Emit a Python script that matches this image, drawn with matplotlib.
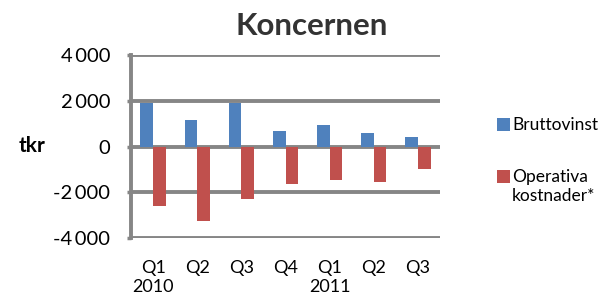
import matplotlib
matplotlib.use("Agg")
import matplotlib.pyplot as plt
from matplotlib.patches import Rectangle
import numpy as np

categories = ["Q1\n2010", "Q2", "Q3", "Q4", "Q1\n2011", "Q2", "Q3"]
bruttovinst = [1900, 1150, 1890, 690, 950, 590, 400]
operativa = [-2600, -3250, -2310, -1650, -1460, -1560, -990]
series_names = ["Bruttovinst", "Operativa\nkostnader*"]
yticks = [-4000, -2000, 0, 2000, 4000]
ytick_labels = ["-4\u2009000", "-2\u2009000", "0", "2\u2009000", "4\u2009000"]

plt.rcParams['font.family'] = ['Lato', 'DejaVu Sans']

W, H = 601, 294
fig = plt.figure(figsize=(W/100, H/100), dpi=100)
ax = fig.add_axes([131/W, 1-238/H, (440-131)/W, (238-55)/H])

x = np.arange(len(categories))
w = 0.285
blue = "#4F81BD"
red = "#C0504D"
grid = "#868686"
colors = [blue, red]

ax.bar(x - w/2, bruttovinst, width=w, color=blue, label=series_names[0], zorder=3)
ax.bar(x + w/2, operativa, width=w, color=red, label=series_names[1], zorder=3)

ax.set_xlim(-0.5, len(categories) - 0.5)
ax.set_ylim(-4000, 4000)
ax.set_yticks(yticks)
ax.set_yticklabels(ytick_labels, fontsize=14.5)
ax.set_xticks(x)
ax.set_xticklabels(categories, fontsize=13, linespacing=1.22, va="top")
ax.tick_params(axis="x", length=0, pad=16)
ax.tick_params(axis="y", length=3, width=2.5, color=grid, pad=12)

for yv in yticks:
    ax.axhline(yv, color=grid, lw=2.8, zorder=1, solid_capstyle="butt")
for s in ["top", "right", "bottom"]:
    ax.spines[s].set_visible(False)
ax.spines["left"].set_color(grid)
ax.spines["left"].set_linewidth(2.8)
ax.spines["left"].set_zorder(2)

fig.text(312/W, 1-26/H, "Koncernen", fontsize=22.5, fontweight="bold", color="#333333",
         ha="center", va="center")
fig.text(32/W, 1-146/H, "tkr", fontsize=15, fontweight="bold", ha="center", va="center")

# legend (manual, first text line aligned with the swatch as in the reference)
sw_tops = [118, 170]
for col, name, top in zip(colors, series_names, sw_tops):
    fig.patches.append(Rectangle((497/W, 1-(top+13)/H), 13/W, 13/H,
                                 transform=fig.transFigure, facecolor=col,
                                 edgecolor="none"))
    for i, line in enumerate(name.split("\n")):
        fig.text(512/W, 1-(top+7+i*19)/H, line, fontsize=12.5, ha="left",
                 va="center")

fig.savefig("out.png", dpi=100)
